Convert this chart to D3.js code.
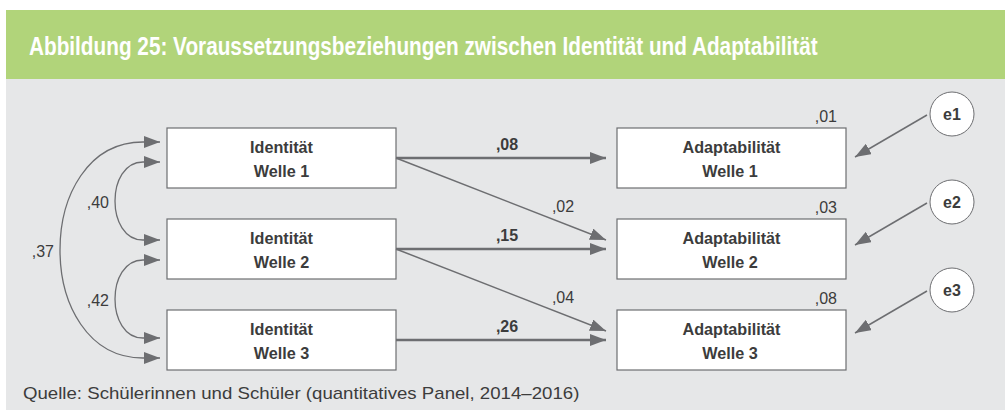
<!DOCTYPE html>
<html>
<head>
<meta charset="utf-8">
<script src="https://cdn.jsdelivr.net/npm/d3@7"></script>
<style>
  html, body { margin: 0; padding: 0; background: #ffffff; }
  svg { display: block; }
</style>
</head>
<body>
<script>
// ---------- data ----------
const waves = ["Welle 1", "Welle 2", "Welle 3"];
const constructs = ["Identität", "Adaptabilität"];
const stabilityPaths = [",08", ",15", ",26"];     // Identität t -> Adaptabilität t
const crossLaggedPaths = [",02", ",04"];          // Identität t -> Adaptabilität t+1
const rSquared = [",01", ",03", ",08"];           // explained variance Adaptabilität
const errorTerms = ["e1", "e2", "e3"];
const correlations = [
  { from: 0, to: 1, label: ",40" },
  { from: 1, to: 2, label: ",42" },
  { from: 0, to: 2, label: ",37" }
];
const titleText = "Abbildung 25: Voraussetzungsbeziehungen zwischen Identität und Adaptabilität";
const sourceText = "Quelle: Schülerinnen und Schüler (quantitatives Panel, 2014–2016)";

// ---------- styles ----------
const W = 1005, H = 410;
const lineColor = "#6d6e71";
const textColor = "#3c3c3c";
const fontMain = "'Liberation Sans', Arial, sans-serif";

const svg = d3.select("body").append("svg").attr("width", W).attr("height", H);

// backgrounds
svg.append("rect").attr("x", 6).attr("y", 10).attr("width", W - 6).attr("height", 69).attr("fill", "#b1d47a");
svg.append("rect").attr("x", 6).attr("y", 79).attr("width", W - 6).attr("height", H - 79).attr("fill", "#e6e7e8");

// helper: fit a text horizontally to a target width by scaling x
function fitText(sel, x, targetW) {
  const natural = sel.node().getComputedTextLength();
  const k = targetW / natural;
  sel.attr("x", 0).attr("transform", `translate(${x},0) scale(${k},1)`);
}

// title
const title = svg.append("text")
  .attr("y", 55)
  .attr("font-family", fontMain).attr("font-weight", "bold").attr("font-size", 26)
  .attr("fill", "#ffffff")
  .text(titleText);
fitText(title, 29, 789);

// source
const source = svg.append("text")
  .attr("y", 399)
  .attr("font-family", fontMain).attr("font-size", 16)
  .attr("fill", textColor)
  .text(sourceText);
fitText(source, 23, 557);

// marker
const defs = svg.append("defs");
defs.append("marker")
  .attr("id", "arrow")
  .attr("viewBox", "0 0 16 12")
  .attr("markerWidth", 16).attr("markerHeight", 12)
  .attr("refX", 16).attr("refY", 6)
  .attr("markerUnits", "userSpaceOnUse")
  .attr("orient", "auto-start-reverse")
  .append("path").attr("d", "M0,0 L16,6 L0,12 Z").attr("fill", lineColor);

// ---------- scales ----------
const rowY = d3.scalePoint().domain(waves).range([158, 340]);
const colX = d3.scalePoint().domain(constructs).range([281.5, 731.5]);
const portY = d3.scalePoint().domain(waves).range([152, 348]);
const errY = d3.scalePoint().domain(errorTerms).range([114, 290]);
const boxW = 229, boxH = 60;

const leftRight = colX(constructs[0]) + boxW / 2;
const rightLeft = colX(constructs[1]) - boxW / 2;
const rightRight = colX(constructs[1]) + boxW / 2;
const leftLeft = colX(constructs[0]) - boxW / 2;
const tipX = rightLeft - 11;

// ---------- boxes ----------
constructs.forEach(c => {
  waves.forEach(w => {
    const g = svg.append("g");
    g.append("rect")
      .attr("x", colX(c) - boxW / 2).attr("y", rowY(w) - boxH / 2)
      .attr("width", boxW).attr("height", boxH)
      .attr("fill", "#ffffff").attr("stroke", lineColor).attr("stroke-width", 1.2);
    g.append("text")
      .attr("x", colX(c)).attr("y", rowY(w) - 5)
      .attr("text-anchor", "middle")
      .attr("font-family", fontMain).attr("font-weight", "bold").attr("font-size", 16.2)
      .attr("fill", textColor).text(c);
    g.append("text")
      .attr("x", colX(c) - (c === constructs[1] ? 1.5 : 0)).attr("y", rowY(w) + 19)
      .attr("text-anchor", "middle")
      .attr("font-family", fontMain).attr("font-weight", "bold").attr("font-size", 16.2)
      .attr("fill", textColor).text(w);
  });
});

// ---------- stability paths ----------
stabilityPaths.forEach((lab, i) => {
  const y = rowY(waves[i]);
  svg.append("line")
    .attr("x1", leftRight).attr("y1", y).attr("x2", tipX).attr("y2", y)
    .attr("stroke", lineColor).attr("stroke-width", 2.5)
    .attr("marker-end", "url(#arrow)");
  svg.append("text")
    .attr("x", (leftRight + tipX) / 2 + 6).attr("y", y - 8)
    .attr("text-anchor", "middle")
    .attr("font-family", fontMain).attr("font-weight", "bold").attr("font-size", 16)
    .attr("fill", textColor).text(lab);
});

// ---------- cross-lagged paths ----------
crossLaggedPaths.forEach((lab, i) => {
  const y1 = rowY(waves[i]);
  const y2 = rowY(waves[i + 1]) - 9;
  svg.append("line")
    .attr("x1", leftRight).attr("y1", y1).attr("x2", tipX).attr("y2", y2)
    .attr("stroke", lineColor).attr("stroke-width", 1.5)
    .attr("marker-end", "url(#arrow)");
  svg.append("text")
    .attr("x", 563).attr("y", rowY(waves[i + 1]) - 37)
    .attr("text-anchor", "middle")
    .attr("font-family", fontMain).attr("font-size", 16)
    .attr("fill", textColor).text(lab);
});

// ---------- R² labels ----------
rSquared.forEach((lab, i) => {
  svg.append("text")
    .attr("x", rightRight - 9).attr("y", rowY(waves[i]) - boxH / 2 - 6)
    .attr("text-anchor", "end")
    .attr("font-family", fontMain).attr("font-size", 16)
    .attr("fill", textColor).text(lab);
});

// ---------- error terms ----------
errorTerms.forEach((e, i) => {
  const cy = errY(e), cx = 952, r = 22;
  svg.append("line")
    .attr("x1", cx - r - 3).attr("y1", cy + 1)
    .attr("x2", rightRight + 9).attr("y2", cy + 43)
    .attr("stroke", lineColor).attr("stroke-width", 1.5)
    .attr("marker-end", "url(#arrow)");
  svg.append("circle")
    .attr("cx", cx).attr("cy", cy).attr("r", r)
    .attr("fill", "#ffffff").attr("stroke", lineColor).attr("stroke-width", 1);
  svg.append("text")
    .attr("x", cx).attr("y", cy + 6)
    .attr("text-anchor", "middle")
    .attr("font-family", fontMain).attr("font-weight", "bold").attr("font-size", 16)
    .attr("fill", textColor).text(e);
});

// ---------- correlations ----------
const curveTip = leftLeft - 7;    // arrow tip x
const curveBase = curveTip - 17;
correlations.forEach(c => {
  const adjacent = (c.to - c.from) === 1;
  const yA = portY(waves[c.from]) + (adjacent ? 10 : -10);
  const yB = portY(waves[c.to]) + (adjacent ? -10 : 10);
  const leftmost = adjacent ? 115 : 60;
  const cx = (leftmost - 0.25 * curveBase) / 0.75;
  const p = d3.path();
  p.moveTo(curveTip, yA);
  p.lineTo(curveBase, yA);
  p.bezierCurveTo(cx, yA, cx, yB, curveBase, yB);
  p.lineTo(curveTip, yB);
  svg.append("path")
    .attr("d", p.toString())
    .attr("fill", "none").attr("stroke", lineColor).attr("stroke-width", 1.3)
    .attr("marker-start", "url(#arrow)").attr("marker-end", "url(#arrow)");
  svg.append("text")
    .attr("x", leftmost - 6).attr("y", (yA + yB) / 2 + 7)
    .attr("text-anchor", "end")
    .attr("font-family", fontMain).attr("font-size", 16)
    .attr("fill", textColor).text(c.label);
});
</script>
</body>
</html>
